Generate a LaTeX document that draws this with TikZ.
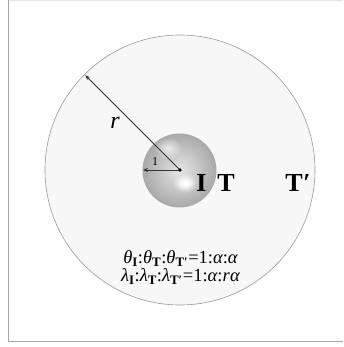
\documentclass[tikz,border=0pt]{standalone}
\usepackage{fontspec}
\setmainfont{Liberation Serif}
\usetikzlibrary{arrows.meta,fadings,calc}
\tikzfading[name=softspot, inner color=transparent!0, outer color=transparent!100]
\begin{document}
\begin{tikzpicture}[x=1pt,y=1pt,
  frameline/.style={draw=black!35,line width=1pt},
  arr/.style={draw=black!80,line width=0.8pt,-{Stealth[length=5pt,width=4pt]}},
  bigT/.style={font=\fontsize{26}{26}\selectfont\bfseries,inner sep=0pt,anchor=base},
  formula/.style={font=\fontsize{18.5}{18.5}\selectfont,inner sep=0pt,anchor=base}]
\useasboundingbox (0,0) rectangle (343,347);
\fill[white] (0,0) rectangle (343,347);
\draw[black!10,line width=0.6pt] (8,346.7) -- (343,346.7);
\draw[frameline] (8,347) -- (8,5) -- (343,5);
% big circle
\coordinate (c) at (180,177);
\filldraw[fill=black!3,draw=black!40,line width=0.6pt] (c) circle (135);
% sphere
\shade[inner color=black!10, outer color=black!34] (179.5,176.5) circle (37);
\fill[white,path fading=softspot,opacity=0.7] (168,199) ellipse (14 and 11);
\fill[white,path fading=softspot] (185,164) ellipse (13 and 10);
\fill[white,path fading=softspot] (185,164) ellipse (9 and 7);
% arrows
\coordinate (rend) at ($(c)+(135:134)$);
\coordinate (oneend) at (143,177);
\draw[arr] (c) -- (rend);
\draw[arr] (c) -- (oneend);
\fill[black] (c) circle (1.9);
\node[font=\fontsize{24}{24}\selectfont\itshape,inner sep=0pt] (rl) at (115,224) {r};
\node[font=\fontsize{12}{12}\selectfont,inner sep=0pt] (ol) at (155,185) {1};
\node[bigT] (I) at (201.5,155) {I};
\node[bigT] (T) at (226,155) {T};
\node[bigT] (Tp) at (298,155) {T\kern0.5pt′};
\node[formula] (f1) at (180.5,83) {%
{\itshape θ}\textsubscript{\bfseries I}:{\itshape θ}\textsubscript{\bfseries T}:{\itshape θ}\textsubscript{\bfseries T′}=1:{\itshape α}:{\itshape α}};
\node[formula] (f2) at (180.5,65) {%
{\itshape λ}\textsubscript{\bfseries I}:{\itshape λ}\textsubscript{\bfseries T}:{\itshape λ}\textsubscript{\bfseries T′}=1:{\itshape α}:{\itshape r\kern0.5ptα}};
\end{tikzpicture}
\end{document}
